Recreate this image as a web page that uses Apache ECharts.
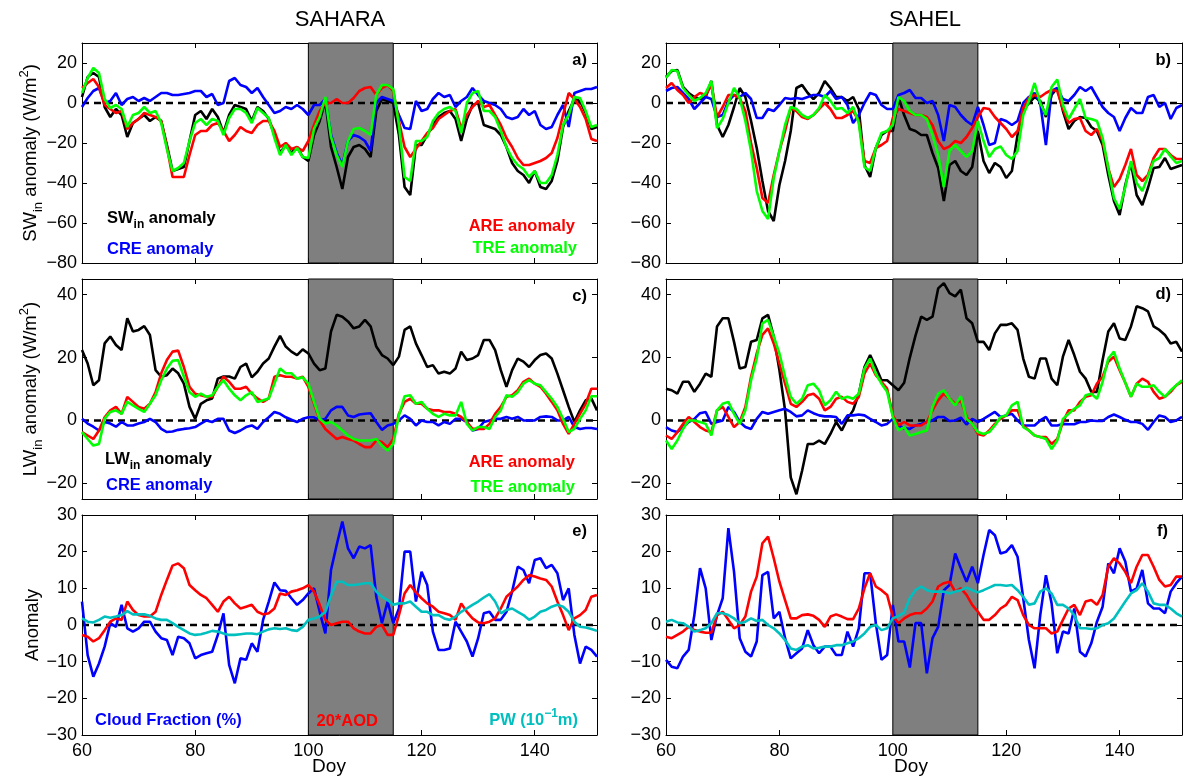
<!DOCTYPE html>
<html><head><meta charset="utf-8">
<script src="https://cdn.jsdelivr.net/npm/echarts@6/dist/echarts.min.js"></script>
<style>html,body{margin:0;padding:0;background:#fff}#c{width:1195px;height:781px}</style>
</head><body><div id="c"></div>
<script>
// ---- x categories (day of year) ----
const days = []; for (let d = 60; d <= 151; d++) days.push(d);

// ---- tick labels ----
const xTicks = [60, 80, 100, 120, 140];
const swTicks = [-80, -60, -40, -20, 0, 20];
const lwTicks = [-20, 0, 20, 40];
const anTicks = [-30, -20, -10, 0, 10, 20, 30];

// ---- panel a (SAHARA SW) ----
const aSW = [3,13,15,13,-2,-7,-3,-6,-17,-10, -8,-6,-9,-7,-9,-21,-34,-33,-32,-19, -6,-4,-8,-3,-7,-15,-6,-1,-2,-3, -9,-2,-4,-8,-16,-25,-21,-25,-22,-27, -29,-16,-9,1,-22,-32,-43,-27,-22,-21, -23,-27,-4,2,1,0,-16,-42,-46,-21, -21,-16,-11,-7,-5,-4,-8,-19,-8,-1, 0,-11,-12,-13,-16,-22,-30,-34,-36,-40, -34,-42,-43,-39,-29,-12,-4,2,1,-5, -13,-12];
const aCRE = [-2,2.5,6,7.5,0,1,5,-1,2,3, 1,2.5,1,3,5,5,4,4,4.5,5, 6,6,3,4.5,-1,0,11,12.5,9,8, 5,7.5,3,-1,-5,-4,-2,-3,-1,-3, -6,-1,-1,2,-16,-25,-31,-19,-16,-17, -19,-24,0,3,2,1,-6,-12.5,-13,1, -4,-3,2,5,3,4,-2,1,3,7.5, 4,1,0,-1,-3,-7,-8,-7,-3,-6, -4,-11,-13,-12,-6,-1,-12,5,6,7, 7,8];
const aARE = [7.5,10,12,8,-1,-3,-5,-4,-13,-10, -8,-5,-6,-7,-9,-22,-37,-37,-37,-26, -16,-14,-14,-11,-10,-14,-19,-16,-12,-14, -15,-11,-9,-9,-14,-22,-20,-23,-22,-24, -19,-11,-4,0,0,2,0,0,2.5,6, 7.5,8,4,7.5,9,6,-9,-22,-27,-23, -19,-15,-12.5,-8,-6,-4,-3,-12.5,-6,-2, 1,-2,-1,-6,-11,-17.5,-22,-27.5,-31,-31, -30,-29,-27.5,-25,-17.5,-6,5,2,-2,-8, -18,-19];
const aTRE = [5,12.5,17.5,15,2,-2.5,-1,-3,-12,-6, -5,-2,-5,-4,-10,-23,-34,-32.5,-30,-19, -10,-8,-11,-8,-9,-16,-7.5,-3,-3,-5, -10,-2.5,-5,-7.5,-17.5,-26,-21,-26,-22.5,-27, -27.5,-13,-7,3,-17,-26,-32,-19,-13,-12.5, -14,-16,4,9,9,7,-11,-37,-39,-19, -19,-17,-9,-5,-3,-2,-4,-15,0,5, 6,-4,-4,-7,-14,-22,-27.5,-31,-33,-37, -34,-40,-40,-36,-26,-11,-6,3,2.5,-4, -12,-11];

// ---- panel b (SAHEL SW) ----
const bSW = [13,16,16.5,8,5,3,2,3,11,-11, -17,-11,-2,7.5,3,-9,-22.5,-39,-54,-59, -41,-29,-14,7.5,9,5,2,5,11,7.5, 3,3,1,3,-3,-31,-37,-22.5,-16,-14, -14,3,-6,-13,-14,-16,-16,-25,-32.5,-49, -31,-29,-34,-36,-32,-14,-29,-35,-30,-32, -37.5,-34,-16,-4,0,3,1,-7,4,7.5, -4,-13,-9,-7,-7.5,-12,-14,-21,-36,-49, -56,-41,-30,-46,-51,-42.5,-32.5,-32,-27.5,-33, -32,-31];
const bCRE = [6,7.5,8,5,2,-3,0,3,2,-7, -6,1,4,3,5,2,-7.5,-7.5,-3,-4, -1,2.5,2,2.5,2,3,4,4,3,6, 2,3,-1,-10,-6,0,5,4,-1,-3, -3,4,5,6.5,2.5,2.5,0,1,-6,-19, -1,-2,-6,-9,-11,-2,-11,-21,-20,-8, -9,-11,-9,0,3,5,0,-21,6,7.5, 2,1,4,8,6,8,3,-2,-5,-7, -14,-7.5,-2.5,-5,-5,3,4,-2,0,-8, -2.5,-1];
const bARE = [7.5,10,6.5,4,0,3,5,4,9,-7, -2,4,4,2.5,-4,-20,-32.5,-47.5,-50,-36, -24,-14,-2.5,-4,-7,-8,-6,-3,0,-3, -7.5,-7.5,-6,-4,-9,-29,-30,-22.5,-21,-19, -7.5,-3,-4,-5,-6,-6,-7,-11,-19,-23, -21.7,-19,-20,-17,-12.5,-7,-2.5,-3,-7,-10, -13,-17,-14,-2.5,2.5,4,3,5,6.5,6, -3,-10,-8,-7.5,-14,-16,-13,-19,-32.5,-42, -38,-31,-23,-36,-39,-36,-27.5,-23,-23,-26, -28,-28];
const bTRE = [12.5,16.5,16,7.5,4,1,2.5,5,11,-12.5, -8,0,7.5,2.5,-9,-24,-44,-54,-58,-37.5, -24,-11,-2,-3,-6,-7.5,-6,-2.5,4,1, -3,-2.5,-5,-2,-10,-32,-34,-22.5,-15,-14, -11,3,1,-4,-6,-6,-8,-16,-26,-42, -24,-21,-24,-27,-24,-9,-19,-27,-23,-21.7, -26,-28,-24,-6,1,10,0,-6,8,11.7, -1,-8,-3,2,-7.5,-8,-9,-17.5,-32.5,-47.5, -53,-42,-29,-40,-44,-36.7,-29,-27.5,-23,-26.7, -30,-29];

// ---- panel c (SAHARA LW) ----
const cLW = [22.4,18.1,11.2,12.8,24.5,26.7,24,22.4,32.5,28.3, 28.8,30,27.2,16,13.9,14.4,16.5,15,11.7,4.3, 0.5,5.3,6.4,7,13.3,14,14,13.3,17,18.1, 13.7,15.5,18.1,19.7,23.5,26.9,23.5,21.9,20.8,22.6, 21.3,18.1,16,16.5,28.3,33.6,33,31.5,29.3,29.9, 32,29.9,23.5,20.8,19.7,17.6,20.3,28.8,29.9,24.5, 20.8,17,17.6,14.9,15.5,14.9,16.5,21.9,19.2,19.7, 20.8,25.6,25.6,22.4,16,10.7,16,19.7,18.7,17, 19.2,20.8,21.3,19.7,14.9,9.6,4.3,-0.5,3.2,6.4, 7,3.2];
const cCRE = [0.5,-1,-2,-3.2,-0.5,-1,-2,-0.5,-1.6,-1.6, -1,-0.5,0.5,-0.5,-2.7,-3.7,-3.5,-3,-2.7,-2.5, -2.1,-1,0,-0.5,0.5,0.5,-3.2,-4,-3.2,-2.1, -1.6,-2.7,-0.5,1,2.7,2.1,1,0.2,-0.5,0.5, 1,1,0,0.5,3.2,4.3,4.3,1.6,1.1,1.9, 2.1,2.3,-0.5,-3,-1.6,-1.1,0,1.6,0.5,-1.6, 0,-0.5,-0.5,-1.6,-0.5,-1.1,0.5,0.5,-0.5,-3.2, -2.7,-0.5,0,0.5,0.5,1.1,0.5,1.1,0,0, 0,1.1,1.3,1.1,0,0,1.1,-2.1,-2.7,-2.4, -2.4,-2.7];
const cARE = [-3.7,-4.8,-5.9,-3.2,1,3.2,4.3,2.1,7.5,5.9, 4.3,3.7,5.3,9,15,19.2,21.9,22.2,17,10.7, 8.5,8,7.5,7.5,10.7,13.9,12.3,10.1,10.1,10.7, 8.5,7,5.9,7,13.9,14.4,13.9,13.9,13.3,13.9, 10.7,5.3,0,-2.7,-4.3,-5.9,-5.3,-5.9,-6.4,-7.5, -8.5,-8.5,-6.4,-6.9,-8.5,-5.9,2.1,5.9,6.9,5.3, 5.3,3.7,3.2,3.2,2.7,2.7,2.1,1.1,-0.5,-2.7, -2.7,-2.7,-1.1,2.1,4.3,7.5,8,9.6,12.3,13.3, 11.7,10.7,8.5,5.9,3.2,-1.1,-4.3,-1.1,2.1,5.3, 10.1,10.1];
const cTRE = [-3.7,-5.9,-8,-7.5,0.5,2.7,3.2,2.1,5.9,4.8, 3.7,2.7,5.3,8,12.8,16.5,19,19.2,13.9,9, 7.5,8.5,7.5,8,10.7,12.8,10.1,8,6.4,8, 9,5.9,6.4,7,11.7,16.5,15,15,13.3,13.7, 11.7,5.9,0.5,-1,-0.5,-1.6,-3.2,-4.8,-5.9,-6.4, -6.4,-6.4,-5.9,-8,-9.6,-7.5,1.6,7.7,8,5.3, 5.9,3.7,2.1,1.1,2.1,1.6,1.6,5.9,-1.1,-3.2, -2.1,-2.1,-2.7,1.1,3.2,8,7.5,9,11.7,12.8, 11.7,11.2,9,6.9,4.3,0.5,-3.7,-2.7,0.5,3.2, 7.7,7.7];

// ---- panel d (SAHEL LW) ----
const dLW = [10.1,9.6,8.5,12.3,12.3,9.1,11.7,14.9,13.9,29.9, 32.5,32.5,25,16.5,17,25,25.6,32.5,33.6,26.7, 16,3.2,-18.1,-23.5,-16,-7.5,-7.5,-6.4,-7.5,-4.3, -0.5,-3.2,0.5,3.2,8.5,17,20.8,17,12.8,12.8, 11.2,9.6,12,20,27,33,32,33,42,43.7, 40.5,39.5,41.6,32.5,30.9,25,25,22.4,27.7,30.4, 30.4,30.9,28.8,19.7,13.9,13.3,19.7,19.7,13.3,11.2, 20.3,25.6,20.8,15.5,13.3,9.1,9.1,19.2,28.3,30.9, 26.1,25.6,29.9,36.3,35.7,34.7,29.9,28.8,27.2,24.5, 25,21.9];
const dCRE = [-2.1,-3.2,-3.7,-2.1,-0.5,0.5,2.3,2.7,-1.1,-0.5, 0,4.3,2.7,-0.5,-2.1,-2.7,0.5,2.7,2.1,2.7, 3.2,3.7,2.7,1.3,1.6,3.2,2.3,1.6,1.3,1.3, 1.1,-1.1,1.6,1.6,1.9,1.6,0.5,-0.5,-1.6,-1.1, 0.5,-1.6,-2.5,-2.7,-1.6,-1.1,-0.5,0,1.1,1.1, -0.2,0,0.9,-1.3,0.5,-0.5,0.5,1.6,2.7,1.1, 1.6,2.1,0,-1.6,-1.6,-1.6,0,1.1,-1.6,-1.6, -1.1,-1.2,-1.2,-0.5,-0.5,0,-0.2,-0.2,1.1,1.9, 1.1,0.2,-0.5,-0.5,-1.1,-3,-0.5,1.6,1.1,-0.5, 0,1.1];
const dARE = [-4.8,-5.9,-3.7,-1.1,1.1,-0.5,-2.1,-3.2,-3.7,3.2, 4.3,1.1,-2.1,-0.5,4.3,13.9,21.3,27.2,29.3,24.5, 18.1,11.7,5.3,4.3,5.9,8,8.5,6.9,3.2,4.3, 6.9,7.5,5.9,5.3,7.5,14.9,18.1,14.4,12.3,10.1, 1.6,-1.6,-0.5,-1.6,-1.6,-1.6,-0.5,3.2,6.4,8.5, 6.9,5.3,6.4,1.1,-1.1,-4.3,-4.8,-3.2,-1.1,0.5, 1.6,3.2,3.2,-1.6,-3.2,-4.8,-5.3,-5.3,-7.5,-5.9, -0.5,3.2,3.2,5.9,7.5,8,11.7,13.9,18.7,20.3, 16,12,7.5,11.7,13.3,12.3,9.1,6.9,7.5,9.1, 11.2,12.3];
const dTRE = [-6.4,-9.1,-6.4,-2.7,0,0,-0.5,-1.1,-4.8,3.2, 5.3,5.9,2.1,-1.1,3.2,12.8,19.7,30.9,32,26.7, 21.3,13.9,7.5,5.3,6.9,11.2,11.7,9.6,4.8,6.4, 9.1,6.9,7.5,6.9,8.5,16.5,19.7,14.9,11.7,9.1, 1.1,-3.2,-2.1,-4.8,-4.3,-3.7,-3.2,4.3,8.5,9.6, 6.9,4.8,7.7,0.5,-1.1,-3.7,-4.3,-3.7,-1.6,1.1, 1.6,4.8,5.9,-2.1,-3.2,-4.8,-5.3,-5.9,-9.1,-6.4, 0.5,2.1,3.7,4.8,8,8.5,6.9,12.3,19.7,21.9, 16.5,12,7.5,11.7,10.7,10.7,11.2,9.1,7.5,9.6, 11.2,12.8];

// ---- panel e (SAHARA cloud / AOD / PW) ----
const eCF = [6.4,-8.2,-14.1,-10.5,-5.9,0.5,-0.5,5.5,-0.9,-1.8, -0.9,0.9,0.9,-1.8,-3.6,-4.1,-8.2,-3.2,-3.6,-5, -9.1,-8.2,-7.7,-7.3,-2.7,3.2,-10.9,-15.9,-9.1,-9.5, -5,-7.3,1.4,6.4,11.6,9.5,9.3,7.3,5.5,6.8, 8.6,10,3.6,-2.3,15,21.8,28.2,20.9,18.2,21.4, 20.9,21.8,7.7,0.5,6.4,0.5,4.5,20,20,6.4, 14.5,10.9,-1.8,-6.8,-6.8,-6.4,0.9,-1.8,-4.5,-8.6, -3.6,3.2,3.6,1.4,1.4,3.6,9.1,15.9,15,11.4, 17.7,18.2,15.5,16.4,14.1,6.8,10,-2.7,-10.5,-5.9, -6.8,-8.6];
const eAOD = [-2.7,-3.2,-4.5,-3.6,-1.4,0.9,1.8,1.4,6.4,4.1, 2.7,2.3,2.3,3.6,8.2,12.3,16.2,16.8,15.5,10.9, 9.5,8.2,7.3,5.5,3.6,6.4,7.7,5.9,4.5,5, 5.5,3.6,2.9,3.2,4.5,8.6,8.2,9.1,9.5,10, 10.9,9.1,5.5,1.4,0,0.5,0.9,0.9,-0.9,-1.8, -2.3,-2.3,-0.5,0,-2.7,-2.7,2.7,8.6,10.9,8.9, 7.3,5.9,5,3.6,3.2,2.7,1.4,5.9,3.6,1.8, 0.7,0.5,0.9,1.8,4.5,7.7,9.1,10.5,12.3,13.6, 13.2,12.7,12.3,10.5,6.4,2.7,-1.4,1.8,2.7,4.1, 7.7,8.2];
const ePW = [1.8,0.9,0.7,1.4,2.3,2,2.3,2.7,3.8,2.9, 2.9,2.9,2.5,1.8,1.4,1.4,0.5,-0.5,-1.4,-2.3, -2.7,-2.5,-2.1,-1.6,-1.8,-2.3,-2.7,-2.7,-2.5,-2.3, -2.3,-2.5,-1.8,-1.2,-0.9,-1.1,-0.9,-1.4,-1.6,-0.5, 1.4,1.8,2.3,3.6,8,11.8,11.8,10.9,10.9,11.1, 11.4,11.4,9.1,7.7,6.8,5.5,5.9,5.9,6.4,5, 3.6,3.6,2.7,2.7,1.8,1.4,2.3,3.6,4.5,5.5, 6.4,7.5,8.4,6.4,3.2,4.1,4.5,3.6,2.7,1.4, 2.3,3.6,4.1,5,5.5,5,3.6,0.9,-0.5,-0.7, -1.1,-1.6];

// ---- panel f (SAHEL cloud / AOD / PW) ----
const fCF = [-9.5,-11.4,-11.8,-8.6,-6.8,2.7,15.5,10,-4.1,2.7, 7.3,26.4,14.5,-3.6,-7.3,-8.6,-4.5,13.6,14.5,1.8, 3.6,-3.6,-9.1,-7.7,-6.4,-1.4,-5.5,-7.7,-5.9,-5.9, -8.2,-8.2,-1.8,-5.9,-0.9,14.1,14.1,0.5,-9.5,-8.2, 5.5,-4.5,-4.5,-11.6,0.5,0.5,-13.2,-3.6,-0.5,9.5, 10.9,19.5,15.5,11.8,15.9,11.4,19.1,25.9,24.5,19.5, 20,21.8,18.6,7.3,-4.1,-11.8,2.7,13.6,5.9,-7.7, -1.8,-2.3,4.5,-7.3,-8.6,-5,0.9,5,16.8,14.1, 20.9,17.3,9.1,10,15,5.9,4.5,4.5,3.2,9.1, 11.4,13.2];
const fAOD = [-3.2,-3.6,-2.7,-1.8,-0.5,-1.4,-1.8,-2.1,-2.1,2.7, 3.6,1.4,-0.9,0,2.3,9.1,13.2,22.3,24.1,18.2, 11.8,6.8,1.8,1.8,2.7,2.9,2.5,1.4,-0.5,2.3, 2.9,2.3,1.6,1.6,4.5,10,14.1,10.5,9.5,8.2, 2.3,0.5,1.8,2.7,3.2,3.2,4.5,6.4,10.5,11.4, 11.8,9.1,10,8.2,5.5,3.6,1.4,1.4,2.7,4.5, 5.5,7.7,6.8,2.7,0,-0.9,-0.9,-0.9,-2.3,-1.8, 1.4,4.5,5.5,2.7,6.4,6.8,5.5,8.2,15.9,18.2, 16.8,14.5,11.4,15.9,19.1,19.1,15.9,12.3,10.5,10.9, 13.2,13.2];
const fPW = [0.9,1.4,0.7,0.5,-0.5,-1.8,-1.4,-0.9,0.5,3.2, 3.2,2.7,1.8,0.5,0.9,1.8,1.1,1.4,0,-0.9, -2.3,-4.1,-6.4,-6.8,-5.9,-5.5,-6.4,-6.2,-5.9,-5.9, -5.5,-5.5,-5,-4.5,-3.6,-2.3,-0.5,0,-1.4,-0.9, 1.8,2.5,3.4,7.3,9.5,10.5,9.5,9.1,9.1,9.1, 8.6,9.1,9.5,10.2,9.5,8.9,9.5,10.2,10.9,10.9, 10.7,10.9,9.5,7.7,5.5,5.9,9.1,10,8.6,5.5, 5.5,4.5,2.7,-0.9,-0.9,-1.1,-0.9,0,0.5,1.8, 4.1,6.4,8.6,9.5,11.4,9.1,5.9,5.5,5.5,4.5, 3.2,2.3];

// ---- dust event window ----
const eventStart = 100, eventEnd = 115;

const FONT = '"Liberation Sans", Arial, Helvetica, sans-serif';
const BLACK = '#000000', BLUE = '#0000ff', RED = '#ff0000', GREEN = '#00ff00', CYAN = '#00bfbf';

const panels = [
  {g:{left:82, top:43, width:515, height:220}, ymin:-80, ymax:30, yt:swTicks, xl:false, s:[[aSW,BLACK],[aCRE,BLUE],[aARE,RED],[aTRE,GREEN]]},
  {g:{left:666,top:43, width:516, height:220}, ymin:-80, ymax:30, yt:swTicks, xl:false, s:[[bSW,BLACK],[bCRE,BLUE],[bARE,RED],[bTRE,GREEN]]},
  {g:{left:82, top:279,width:515, height:220}, ymin:-25, ymax:45, yt:lwTicks, xl:false, s:[[cLW,BLACK],[cCRE,BLUE],[cARE,RED],[cTRE,GREEN]]},
  {g:{left:666,top:279,width:516, height:220}, ymin:-25, ymax:45, yt:lwTicks, xl:false, s:[[dLW,BLACK],[dCRE,BLUE],[dARE,RED],[dTRE,GREEN]]},
  {g:{left:82, top:515,width:515, height:220}, ymin:-30, ymax:30, yt:anTicks, xl:true,  s:[[eCF,BLUE],[eAOD,RED],[ePW,CYAN]]},
  {g:{left:666,top:515,width:516, height:220}, ymin:-30, ymax:30, yt:anTicks, xl:true,  s:[[fCF,BLUE],[fAOD,RED],[fPW,CYAN]]}
];

const fmt = v => String(v).replace('-', '\u2212');
const axLine = {show:true, onZero:false, lineStyle:{color:'#000', width:1}};
const grid = [], xAxis = [], yAxis = [], series = [];
panels.forEach((p, i) => {
  grid.push(Object.assign({containLabel:false}, p.g));
  ['bottom','top'].forEach((pos, k) => xAxis.push({
    type:'value', gridIndex:i, min:60, max:151, position:pos,
    axisLine:axLine, splitLine:{show:false},
    axisTick:{show:true, inside:true, length:5, customValues:xTicks, lineStyle:{color:'#000', width:1}},
    axisLabel:{show:(k===0 && p.xl), customValues:xTicks, fontSize:18, color:'#000', margin:7, fontFamily:FONT}
  }));
  ['left','right'].forEach((pos, k) => yAxis.push({
    type:'value', gridIndex:i, min:p.ymin, max:p.ymax, position:pos,
    axisLine:axLine, splitLine:{show:false},
    axisTick:{show:true, inside:true, length:5, customValues:p.yt, lineStyle:{color:'#000', width:1}},
    axisLabel:{show:k===0, customValues:p.yt, fontSize:18, color:'#000', margin:5, fontFamily:FONT, formatter:fmt}
  }));
  const xi = 2*i, yi = 2*i;
  // shaded event window
  series.push({type:'line', xAxisIndex:xi, yAxisIndex:yi, z:1, silent:true, symbol:'none',
    data:[[60,0],[151,0]], lineStyle:{opacity:0},
    markArea:{silent:true, itemStyle:{color:'#7f7f7f', borderColor:'#000', borderWidth:1},
      data:[[{xAxis:eventStart},{xAxis:eventEnd}]]}});
  // dashed zero line
  series.push({type:'line', xAxisIndex:xi, yAxisIndex:yi, z:2, silent:true, symbol:'none',
    data:[[60,0],[151,0]], lineStyle:{color:'#000', width:2.5, type:[7,5]}});
  p.s.forEach(([arr, col]) => series.push({
    type:'line', xAxisIndex:xi, yAxisIndex:yi, z:3, symbol:'none', showSymbol:false,
    data:days.map((d, j) => [d, arr[j]]),
    lineStyle:{color:col, width:2.6}, itemStyle:{color:col}
  }));
});

// ---- text helpers ----
const mctx = document.createElement('canvas').getContext('2d');
function tw(t, size, weight){ mctx.font = `${weight} ${size}px ${FONT}`; return mctx.measureText(t).width; }
// parts: [text, kind] kind: 'n' normal, 's' subscript, 'p' superscript
function multi(x, y, parts, o){
  const size = o.size, small = Math.round(size*0.7), weight = o.weight||'normal';
  const items = parts.map(([t,k]) => ({t, k, sz: k==='n'?size:small}));
  let W = 0; items.forEach(it => { it.w = tw(it.t, it.sz, weight); W += it.w; });
  let cx = o.align==='center' ? -W/2 : (o.align==='right' ? -W : 0);
  const children = items.map(it => {
    const dy = it.k==='s' ? size*0.38 : (it.k==='p' ? -size*0.38 : 0);
    const el = {type:'text', x:cx, y:dy, z:100, zlevel:0, style:{text:it.t, font:`${weight} ${it.sz}px ${FONT}`, fill:o.color||'#000', textAlign:'left', textVerticalAlign:'middle', align:'left', verticalAlign:'middle'}};
    cx += it.w; return el;
  });
  return {type:'group', x, y, z:100, rotation:o.rot||0, children, silent:true};
}
function txt(x, y, t, o){ return multi(x, y, [[t,'n']], o); }

const LS = 16.5;
const graphic = [
  txt(340, 20, 'SAHARA', {size:22, align:'center'}),
  txt(925, 20, 'SAHEL', {size:22, align:'center'}),
  txt(329, 767, 'Doy', {size:19, align:'center'}),
  txt(911, 767, 'Doy', {size:19, align:'center'}),
  multi(31, 153, [['SW','n'],['in','s'],[' anomaly (W/m','n'],['2','p'],[')','n']], {size:18.5, align:'center', rot:Math.PI/2}),
  multi(31, 389, [['LW','n'],['in','s'],[' anomaly (W/m','n'],['2','p'],[')','n']], {size:18.5, align:'center', rot:Math.PI/2}),
  txt(33, 625, 'Anomaly', {size:18.5, align:'center', rot:Math.PI/2}),
  // panel letters
  txt(587, 60, 'a)', {size:LS, weight:'bold', align:'right'}),
  txt(1171, 60, 'b)', {size:LS, weight:'bold', align:'right'}),
  txt(587, 296, 'c)', {size:LS, weight:'bold', align:'right'}),
  txt(1171, 294, 'd)', {size:LS, weight:'bold', align:'right'}),
  txt(587, 531, 'e)', {size:LS, weight:'bold', align:'right'}),
  txt(1168, 531, 'f)', {size:LS, weight:'bold', align:'right'}),
  // legends a
  multi(107, 218, [['SW','n'],['in','s'],[' anomaly','n']], {size:LS, weight:'bold', color:BLACK, align:'left'}),
  txt(107, 249, 'CRE anomaly', {size:LS, weight:'bold', color:BLUE, align:'left'}),
  txt(575, 226, 'ARE anomaly', {size:LS, weight:'bold', color:RED, align:'right'}),
  txt(577, 248, 'TRE anomaly', {size:LS, weight:'bold', color:GREEN, align:'right'}),
  // legends c
  multi(105, 459, [['LW','n'],['in','s'],[' anomaly','n']], {size:LS, weight:'bold', color:BLACK, align:'left'}),
  txt(106, 485, 'CRE anomaly', {size:LS, weight:'bold', color:BLUE, align:'left'}),
  txt(575, 462, 'ARE anomaly', {size:LS, weight:'bold', color:RED, align:'right'}),
  txt(575, 487, 'TRE anomaly', {size:LS, weight:'bold', color:GREEN, align:'right'}),
  // legends e
  txt(95, 720, 'Cloud Fraction (%)', {size:LS, weight:'bold', color:BLUE, align:'left'}),
  txt(378, 721, '20*AOD', {size:LS, weight:'bold', color:RED, align:'right'}),
  multi(578, 720, [['PW (10','n'],['\u22121','p'],['m)','n']], {size:LS, weight:'bold', color:CYAN, align:'right'})
];

const chart = echarts.init(document.getElementById('c'), null, {renderer:'canvas'});
chart.setOption({animation:false, backgroundColor:'#fff', textStyle:{fontFamily:FONT}, grid, xAxis, yAxis, series, graphic});
</script>
</body></html>
